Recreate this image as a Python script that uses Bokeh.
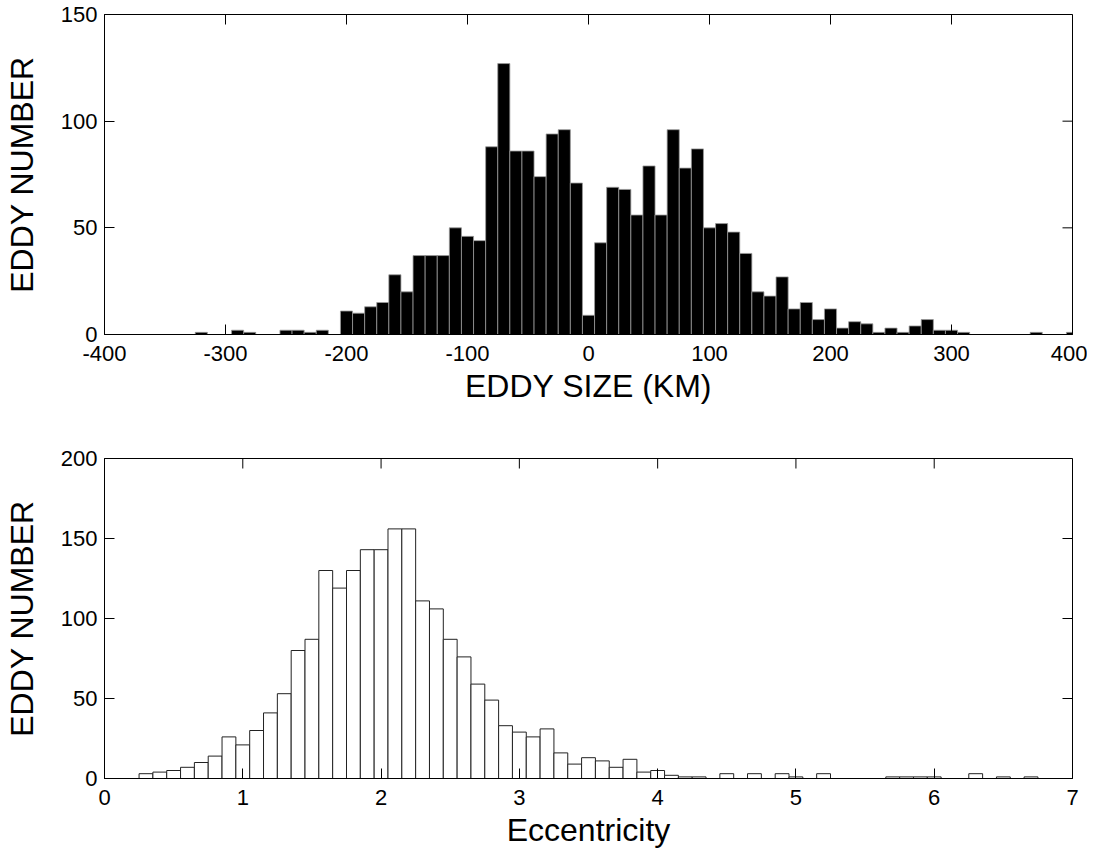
import math
from bokeh.plotting import figure
from bokeh.models import Range1d, FixedTicker
from bokeh.layouts import column
from bokeh.embed import file_html
from bokeh.resources import INLINE

# ---- Top panel: eddy size histogram (10 km bins) ----
size_centers = [-320, -290, -280, -250, -240, -230, -220, -200, -190, -180,
                -170, -160, -150, -140, -130, -120, -110, -100, -90, -80,
                -70, -60, -50, -40, -30, -20, -10, 0, 10, 20,
                30, 40, 50, 60, 70, 80, 90, 100, 110, 120,
                130, 140, 150, 160, 170, 180, 190, 200, 210, 220,
                230, 240, 250, 260, 270, 280, 290, 300, 310, 370, 400]
size_counts = [1, 2, 1, 2, 2, 1, 2, 11, 10, 13,
               15, 28, 20, 37, 37, 37, 50, 46, 44, 88,
               127, 86, 86, 74, 94, 96, 71, 9, 43, 69,
               68, 56, 79, 56, 96, 78, 87, 50, 52, 48,
               38, 20, 18, 27, 12, 15, 7, 12, 3, 6,
               5, 1, 3, 1, 4, 7, 2, 2, 1, 1, 1]
size_xticks = [-400, -300, -200, -100, 0, 100, 200, 300, 400]
size_yticks = [0, 50, 100, 150]

# ---- Bottom panel: eccentricity histogram (0.1 bins) ----
ecc_centers = [0.3, 0.4, 0.5, 0.6, 0.7, 0.8, 0.9, 1.0, 1.1, 1.2,
               1.3, 1.4, 1.5, 1.6, 1.7, 1.8, 1.9, 2.0, 2.1, 2.2,
               2.3, 2.4, 2.5, 2.6, 2.7, 2.8, 2.9, 3.0, 3.1, 3.2,
               3.3, 3.4, 3.5, 3.6, 3.7, 3.8, 3.9, 4.0, 4.1, 4.2,
               4.3, 4.5, 4.7, 4.9, 5.0, 5.2, 5.7, 5.8, 5.9, 6.0,
               6.3, 6.5, 6.7]
ecc_counts = [3, 4, 5, 7, 10, 14, 26, 21, 30, 41,
              53, 80, 87, 130, 119, 130, 143, 143, 156, 156,
              111, 106, 87, 76, 59, 49, 33, 29, 26, 31,
              16, 9, 13, 11, 7, 12, 4, 5, 2, 1,
              1, 3, 3, 3, 1, 3, 1, 1, 1, 1,
              3, 1, 1]
ecc_xticks = [0, 1, 2, 3, 4, 5, 6, 7]
ecc_yticks = [0, 50, 100, 150, 200]

FONT = "Liberation Sans"


def make_fig(xr, yr, xticks, yticks, xlabel, border_top, border_bottom):
    p = figure(frame_width=968, frame_height=320,
               min_border_left=96, min_border_right=15,
               min_border_top=border_top, min_border_bottom=border_bottom,
               x_range=Range1d(*xr), y_range=Range1d(*yr),
               output_backend="svg", toolbar_location=None)
    p.xgrid.visible = False
    p.ygrid.visible = False
    p.outline_line_color = "black"
    p.outline_line_width = 1
    p.xaxis.ticker = FixedTicker(ticks=xticks)
    p.yaxis.ticker = FixedTicker(ticks=yticks)
    p.xaxis.major_label_overrides = {t: str(t) for t in xticks}
    p.yaxis.major_label_overrides = {t: str(t) for t in yticks}
    p.xaxis.axis_label = xlabel
    p.yaxis.axis_label = "EDDY NUMBER"
    for ax in (p.xaxis[0], p.yaxis[0]):
        ax.major_tick_in = 10
        ax.major_tick_out = 0
        ax.minor_tick_line_color = None
        ax.axis_line_color = "black"
        ax.major_tick_line_color = "black"
        ax.major_label_text_font = FONT
        ax.major_label_text_font_size = "22px"
        ax.major_label_text_color = "black"
        ax.axis_label_text_font = FONT
        ax.axis_label_text_font_size = "32px"
        ax.axis_label_text_font_style = "normal"
        ax.axis_label_text_color = "black"
    p.xaxis.major_label_standoff = 11
    p.xaxis.axis_label_standoff = 4
    p.yaxis.major_label_standoff = 7
    p.yaxis.axis_label_standoff = 18
    # mirrored inward ticks on the top and right edges of the box
    p.ray(x=xticks, y=[yr[1]] * len(xticks), length=10, length_units="screen",
          angle=-math.pi / 2, line_color="black", line_width=1)
    p.ray(x=[xr[1]] * len(yticks), y=yticks, length=10, length_units="screen",
          angle=math.pi, line_color="black", line_width=1)
    return p


p1 = make_fig((-400, 400), (0, 150), size_xticks, size_yticks,
              "EDDY SIZE (KM)", 14, 88)
p1.vbar(x=size_centers, top=size_counts, bottom=0, width=10,
        fill_color="black", line_color="#9a9a9a", line_width=0.8)

p2 = make_fig((0, 7), (0, 200), ecc_xticks, ecc_yticks,
              "Eccentricity", 36, 70)
p2.vbar(x=ecc_centers, top=ecc_counts, bottom=0, width=0.1,
        fill_color="white", line_color="#222222", line_width=1)

layout = column(p1, p2, spacing=0)
open("out.html", "w").write(file_html(layout, INLINE))
